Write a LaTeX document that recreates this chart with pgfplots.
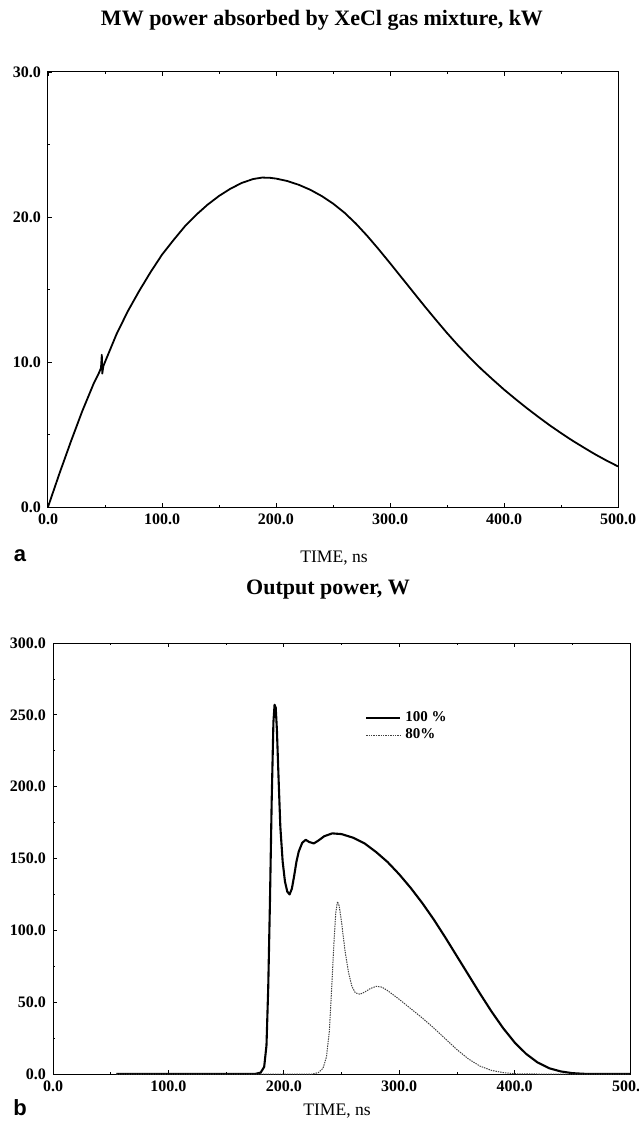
\documentclass[border=0pt]{standalone}
\usepackage{pgfplots}
\pgfplotsset{compat=1.18}
\usepackage{fontspec}
\setmainfont{Liberation Serif}
\newfontfamily\sansb{Liberation Sans}
\begin{document}
\begin{tikzpicture}
\useasboundingbox (0pt,0pt) rectangle (319pt,-561pt);
\pgfplotsset{
  every axis/.style={
    scale only axis,
    axis line style={line width=0.5pt},
    tick style={black,line width=0.4pt},
    major tick length=2.2pt,
    minor tick length=1.2pt,
    tick align=inside,
    xtick pos=both,
    ytick pos=left,
    xmin=0,xmax=500,
    xtick={0,100,...,500},
    minor x tick num=1,
    minor y tick num=1,
    tick label style={font=\bfseries\fontsize{8}{9}\selectfont},
    /pgf/number format/.cd,fixed,fixed zerofill,precision=1,assume math mode=true,
  },
}
% Panel a
\begin{axis}[
  at={(24pt,-253.5pt)}, anchor=south west,
  width=285pt, height=217.5pt,
  ymin=0, ymax=30,
  ytick={0,10,20,30},
]
\addplot[black, line width=0.9pt, line join=round] coordinates {
(0,0) (10,2.3) (20,4.5) (30,6.6) (40,8.5) (45,9.3) (46.5,9.6) (47.2,10.5)
(47.6,9.2) (48.5,9.7) (50,10.0) (60,11.9) (70,13.5) (80,14.9) (90,16.2)
(100,17.4) (110,18.4) (120,19.35) (130,20.15) (140,20.85) (150,21.45)
(160,21.95) (170,22.35) (180,22.62) (188,22.72) (195,22.7) (200,22.65)
(210,22.48) (220,22.22) (230,21.88) (240,21.45) (250,20.93) (260,20.3)
(270,19.55) (280,18.7) (290,17.78) (300,16.82) (310,15.84) (320,14.86)
(330,13.88) (340,12.93) (350,12.0) (360,11.12) (370,10.3) (380,9.52)
(390,8.8) (400,8.1) (410,7.45) (420,6.82) (430,6.22) (440,5.64) (450,5.1)
(460,4.58) (470,4.1) (480,3.63) (490,3.2) (500,2.8)
};
\end{axis}
% Panel b
\begin{axis}[
  at={(26.5pt,-537pt)}, anchor=south west,
  width=288.5pt, height=215.5pt,
  ymin=0, ymax=300,
  ytick={0,50,...,300},
  legend style={draw=none, fill=none, at={(0.53,0.86)}, anchor=north west,
    font=\bfseries\fontsize{7.5}{9}\selectfont, row sep=-2pt},
  legend cell align=left,
]
\addplot[black, line width=1.05pt, line join=round] coordinates {
(55,0) (175,0) (180,1) (183,5) (185,20) (186.5,60) (188,120) (189.5,190) (191,245)
(192,257) (193,255) (194,240) (195.5,205) (197,172) (199,148) (201,134) (203,127)
(205,125) (207,129) (209,138) (211,148) (213,155) (216,161) (219,163) (222,161.5)
(226,160.5) (230,162.5) (235,165.5) (242,167.5) (250,167) (260,164.5) (270,160.5)
(280,154.5) (290,147.5) (300,139) (310,129.5) (320,119) (330,107.5) (340,95)
(350,82) (360,69) (370,56) (380,43.5) (390,32) (400,22) (410,14) (420,8)
(430,4) (440,1.8) (450,0.6) (460,0.15) (470,0) (500,0)
};
\addlegendentry{100 \%}
\addplot[black!75, line width=0.5pt, dash pattern=on 0.7pt off 0.5pt] coordinates {
(55,0) (225,0) (230,1) (234,4) (237,12) (239.5,30) (241.5,60) (243.5,92) (245,112)
(246.5,120) (248,117) (250,106) (253,86) (256,71) (259,61) (262,56.5) (266,55.5)
(270,57) (275,59.5) (280,61) (285,60.5) (290,58) (300,52) (310,45.5) (320,39)
(330,32) (340,24.5) (350,17) (360,10.5) (370,5.5) (380,2.5) (390,1) (400,0.2)
(420,0) (500,0)
};
\addlegendentry{80\%}
\end{axis}
% Titles and labels
\node[font=\bfseries\fontsize{11}{13}\selectfont] at (161pt,-10pt) {MW power absorbed by XeCl gas mixture, kW};
\node[font=\fontsize{8.8}{10}\selectfont] at (167pt,-279pt) {TIME, ns};
\node[font=\sansb\bfseries\fontsize{11}{13}\selectfont] at (10pt,-278pt) {a};
\node[font=\bfseries\fontsize{11}{13}\selectfont] at (164pt,-295pt) {Output power, W};
\node[font=\fontsize{8.8}{10}\selectfont] at (168.5pt,-555.5pt) {TIME, ns};
\node[font=\sansb\bfseries\fontsize{11}{13}\selectfont] at (10pt,-554pt) {b};
\end{tikzpicture}
\end{document}
